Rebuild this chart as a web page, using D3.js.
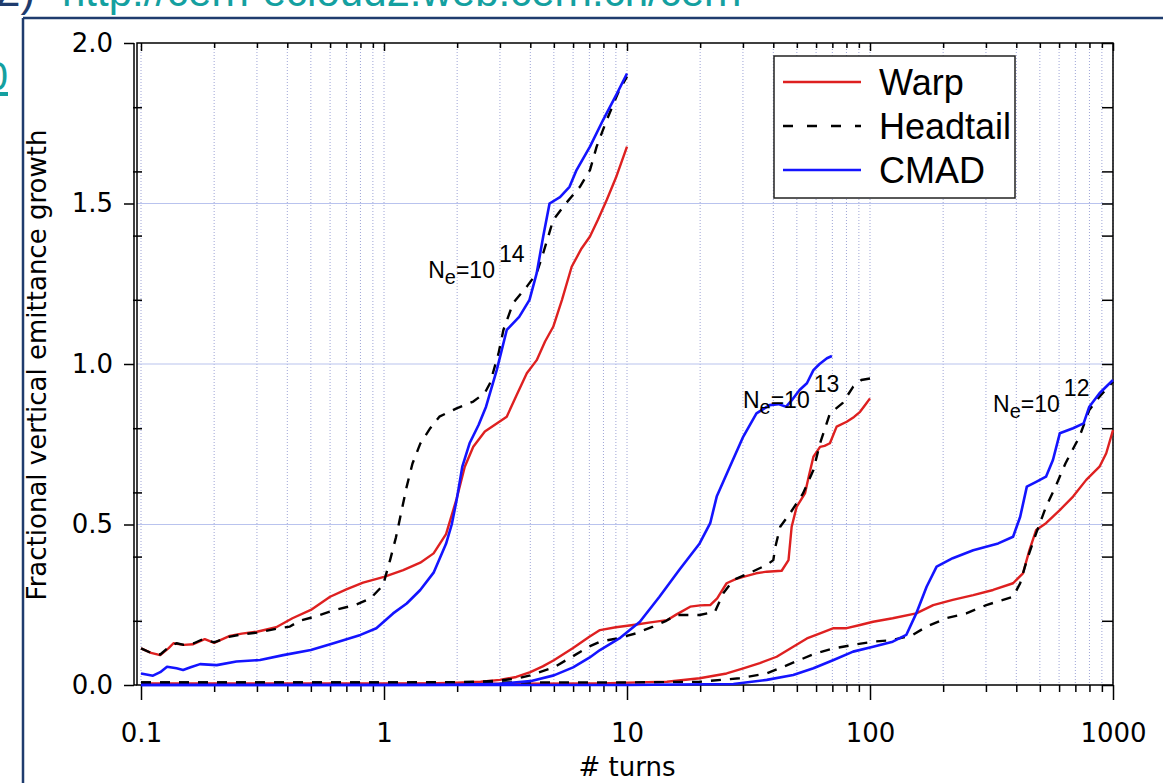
<!DOCTYPE html>
<html><head><meta charset="utf-8">
<script src="https://cdn.jsdelivr.net/npm/d3@7"></script>
<style>
html,body{margin:0;padding:0;background:#fff;}
svg{display:block;}
</style></head>
<body>
<svg id="chart" width="1163" height="783"></svg>
<script>
// ---------- DATA ----------
const seriesNames = ["Warp", "Headtail", "CMAD"];
const xTickValues = [0.1, 1, 10, 100, 1000];
const xTickLabels = ["0.1", "1", "10", "100", "1000"];
const yTickValues = [0, 0.5, 1.0, 1.5, 2.0];
const yTickLabels = ["0.0", "0.5", "1.0", "1.5", "2.0"];
const yMinorValues = [0.2, 0.4, 0.6, 0.8, 1.2, 1.4, 1.6, 1.8];
const yGridValues = [0.5, 1.0, 1.5];

// N_e = 10^14
const warp14 = [[0.1,0.114],[0.11,0.10],[0.12,0.093],[0.13,0.115],[0.136,0.13],[0.15,0.125],[0.164,0.127],[0.183,0.143],[0.2,0.131],[0.232,0.153],[0.26,0.16],[0.3,0.166],[0.36,0.18],[0.42,0.208],[0.5,0.234],[0.6,0.275],[0.7,0.298],[0.82,0.319],[1.0,0.337],[1.2,0.358],[1.41,0.381],[1.6,0.41],[1.8,0.47],[1.99,0.58],[2.15,0.68],[2.33,0.742],[2.6,0.79],[2.91,0.815],[3.2,0.836],[3.5,0.9],[3.87,0.971],[4.25,1.012],[4.6,1.07],[4.97,1.116],[5.4,1.2],[5.92,1.303],[6.5,1.36],[7.04,1.397],[7.6,1.45],[8.25,1.511],[9.0,1.58],[10,1.677]];
const headtail14 = [[0.1,0.114],[0.11,0.10],[0.12,0.095],[0.13,0.118],[0.14,0.13],[0.15,0.125],[0.165,0.13],[0.18,0.143],[0.2,0.133],[0.23,0.15],[0.26,0.158],[0.3,0.163],[0.36,0.175],[0.41,0.182],[0.45,0.2],[0.52,0.213],[0.63,0.234],[0.76,0.249],[0.88,0.27],[0.99,0.31],[1.06,0.39],[1.12,0.46],[1.24,0.618],[1.31,0.69],[1.41,0.752],[1.55,0.80],[1.69,0.836],[1.99,0.862],[2.33,0.883],[2.6,0.91],[2.73,0.94],[2.96,1.033],[3.1,1.106],[3.4,1.19],[3.87,1.241],[4.25,1.283],[4.52,1.345],[4.97,1.449],[5.6,1.5],[6.4,1.552],[7.04,1.604],[7.5,1.677],[8.25,1.76],[9.3,1.854],[10,1.895]];
const cmad14 = [[0.1,0.036],[0.112,0.029],[0.12,0.04],[0.128,0.057],[0.14,0.052],[0.149,0.047],[0.16,0.055],[0.175,0.065],[0.205,0.062],[0.247,0.073],[0.309,0.078],[0.385,0.093],[0.5,0.109],[0.62,0.13],[0.8,0.156],[0.93,0.177],[1.09,0.223],[1.24,0.254],[1.41,0.296],[1.6,0.35],[1.8,0.44],[1.9,0.5],[1.99,0.576],[2.1,0.68],[2.25,0.753],[2.45,0.81],[2.63,0.867],[2.91,0.981],[3.2,1.106],[3.6,1.147],[3.97,1.2],[4.25,1.283],[4.52,1.397],[4.8,1.5],[5.3,1.52],[5.8,1.552],[6.2,1.604],[7.04,1.677],[7.97,1.76],[9.1,1.843],[10,1.905]];

// N_e = 10^13
const warp13 = [[0.1,0.004],[1,0.004],[1.5,0.005],[2,0.007],[2.5,0.01],[3,0.016],[3.5,0.025],[4,0.04],[4.5,0.058],[5,0.077],[6,0.115],[7,0.15],[7.74,0.171],[9,0.18],[10.6,0.187],[12.5,0.195],[14.6,0.202],[16,0.22],[18.2,0.244],[20,0.248],[22,0.249],[23.5,0.27],[25.7,0.317],[28,0.33],[30.1,0.337],[34,0.348],[37.6,0.353],[43.3,0.356],[46.2,0.389],[47.6,0.493],[49.9,0.555],[54,0.597],[56,0.65],[58.5,0.711],[62.3,0.742],[65,0.745],[68.4,0.753],[72.9,0.805],[80.2,0.82],[86,0.835],[91,0.851],[95,0.87],[100,0.893]];
const headtail13 = [[0.1,0.008],[1,0.008],[2,0.009],[2.5,0.011],[3,0.014],[3.5,0.02],[4,0.03],[5,0.055],[6,0.09],[7,0.12],[7.74,0.135],[9.1,0.145],[10.9,0.161],[12.8,0.182],[14.5,0.2],[15.9,0.218],[19.9,0.218],[23,0.228],[24.9,0.286],[27.4,0.327],[31.7,0.348],[37.6,0.374],[40,0.389],[40.8,0.431],[42.7,0.493],[46.9,0.535],[53,0.597],[58.5,0.67],[62.3,0.753],[68.4,0.846],[77.1,0.878],[85.2,0.929],[92,0.95],[100,0.955]];
const cmad13 = [[0.1,0],[1,0],[2,0.001],[3,0.004],[4,0.012],[5,0.03],[6,0.055],[7,0.085],[7.74,0.109],[9.3,0.145],[11.3,0.197],[13.6,0.275],[16.4,0.358],[19.9,0.441],[22,0.504],[23.4,0.587],[26.5,0.68],[30.1,0.774],[34.1,0.846],[38.6,0.872],[42,0.875],[45.2,0.867],[48,0.89],[51.3,0.919],[55,0.94],[58.5,0.981],[62,1.0],[66.5,1.018],[69.7,1.025]];

// N_e = 10^12
const warp12 = [[0.1,0.004],[1,0.004],[3,0.004],[7.74,0.005],[14.6,0.01],[19.9,0.021],[25.7,0.036],[30.1,0.052],[35.2,0.068],[41.3,0.088],[48.3,0.119],[55,0.145],[62.3,0.161],[70.8,0.177],[80.2,0.177],[91,0.187],[103,0.197],[124,0.208],[155,0.223],[182,0.249],[219,0.265],[266,0.28],[321,0.296],[388,0.317],[426,0.348],[453,0.42],[483,0.483],[530,0.504],[604,0.545],[685,0.587],[776,0.639],[880,0.68],[938,0.722],[1000,0.794]];
const headtail12 = [[0.1,0.008],[3,0.008],[10,0.008],[19.9,0.01],[29,0.021],[37.6,0.036],[44,0.057],[51.3,0.078],[60,0.099],[70.8,0.114],[85.2,0.125],[103,0.135],[124,0.14],[150,0.156],[171,0.182],[206,0.208],[249,0.223],[301,0.249],[388,0.275],[415,0.317],[442,0.389],[483,0.473],[530,0.555],[580,0.618],[637,0.69],[728,0.774],[799,0.857],[880,0.898],[1000,0.945]];
const cmad12 = [[0.1,0],[10,0],[27.4,0.003],[37.6,0.016],[48.3,0.031],[58.5,0.052],[70.8,0.078],[85.2,0.104],[103,0.119],[124,0.135],[141,0.156],[155,0.223],[171,0.306],[188,0.369],[219,0.395],[266,0.42],[337,0.441],[388,0.462],[415,0.524],[442,0.618],[483,0.633],[530,0.649],[566,0.701],[604,0.784],[685,0.8],[757,0.815],[799,0.867],[880,0.909],[1000,0.95]];

const annotations = [
  {x: 1.52, y: 1.268, exp: "14"},
  {x: 30.0, y: 0.863, exp: "13"},
  {x: 321, y: 0.85, exp: "12"}
];

// ---------- LAYOUT ----------
const svg = d3.select("#chart");
const frame = {left: 137, right: 1113, top: 43, bottom: 685};
const x = d3.scaleLog().domain([0.1, 1000]).range([141, 1113]);
const y = d3.scaleLinear().domain([0, 2]).range([685, 43]);

const colors = {Warp: "#de2020", Headtail: "#000000", CMAD: "#1414ff"};
const tickFont = "DejaVu Sans, sans-serif";

// page decoration (cut-off slide)
svg.append("line").attr("x1", 23).attr("x2", 1163).attr("y1", 18).attr("y2", 18)
  .attr("stroke", "#1f3c6e").attr("stroke-width", 2.5);
svg.append("line").attr("x1", 23).attr("x2", 23).attr("y1", 18).attr("y2", 783)
  .attr("stroke", "#1f3c6e").attr("stroke-width", 2.5);
svg.append("text").attr("x", -4).attr("y", 6).attr("font-family", "Liberation Sans, Arial, sans-serif")
  .attr("font-size", 44).attr("fill", "#1f3c6e").text("2)");
svg.append("text").attr("x", 62).attr("y", 6).attr("font-family", "Liberation Sans, Arial, sans-serif")
  .attr("font-size", 42).attr("fill", "#14a0a0").text("http://cern-ecloud2.web.cern.ch/cern");
svg.append("text").attr("x", 8).attr("y", 90).attr("text-anchor", "end").attr("font-family", "Liberation Sans, Arial, sans-serif")
  .attr("font-size", 40).attr("fill", "#14a0a0").attr("text-decoration", "underline").text("0");

// minor log values
const logAll = [];
for (let e = -1; e <= 2; e++) for (let m = 1; m <= 9; m++) logAll.push(+(m * Math.pow(10, e)).toPrecision(3));
logAll.push(1000);
const logMinor = logAll.filter(v => !xTickValues.includes(v));

// grid
svg.append("g").selectAll("line").data(logAll).join("line")
  .attr("x1", d => x(d)).attr("x2", d => x(d)).attr("y1", frame.top).attr("y2", frame.bottom)
  .attr("stroke", "#9ea4d6").attr("stroke-width", 1).attr("stroke-dasharray", "1,2");
svg.append("g").selectAll("line").data(yGridValues).join("line")
  .attr("x1", frame.left).attr("x2", frame.right).attr("y1", d => y(d)).attr("y2", d => y(d))
  .attr("stroke", "#b9c3ee").attr("stroke-width", 1.2);

// axes
function styleAxis(g) { g.select(".domain").remove(); g.selectAll(".tick line").attr("stroke", "#000").attr("stroke-width", 1.5); }

const gxB = svg.append("g").attr("transform", `translate(0,${frame.bottom})`)
  .call(d3.axisBottom(x).tickValues(xTickValues).tickFormat((d, i) => xTickLabels[i]).tickSize(15));
styleAxis(gxB);
gxB.selectAll("text").attr("y", 57).attr("dy", 0).attr("font-family", tickFont).attr("font-size", 26).attr("fill", "#000");
svg.append("g").attr("transform", `translate(0,${frame.bottom})`)
  .call(d3.axisBottom(x).tickValues(logMinor).tickFormat("").tickSize(7)).call(styleAxis);
svg.append("g").attr("transform", `translate(0,${frame.top})`)
  .call(d3.axisTop(x).tickValues(xTickValues).tickFormat("").tickSize(-8)).call(styleAxis);
svg.append("g").attr("transform", `translate(0,${frame.top})`)
  .call(d3.axisTop(x).tickValues(logMinor).tickFormat("").tickSize(-5)).call(styleAxis);

const gyL = svg.append("g").attr("transform", `translate(134,0)`)
  .call(d3.axisLeft(y).tickValues(yTickValues).tickFormat((d, i) => yTickLabels[i]).tickSize(10).tickPadding(11));
styleAxis(gyL);
gyL.selectAll("text").attr("font-family", tickFont).attr("font-size", 26).attr("fill", "#000");
svg.append("g").attr("transform", `translate(133,0)`)
  .call(d3.axisRight(y).tickValues(yMinorValues).tickFormat("").tickSize(9)).call(styleAxis);
svg.append("g").attr("transform", `translate(${frame.right},0)`)
  .call(d3.axisRight(y).tickValues(yTickValues.concat(yMinorValues)).tickFormat("").tickSize(-11)).call(styleAxis);

// frame
svg.append("rect").attr("x", frame.left).attr("y", frame.top)
  .attr("width", frame.right - frame.left).attr("height", frame.bottom - frame.top)
  .attr("fill", "none").attr("stroke", "#000").attr("stroke-width", 1.5);
svg.append("line").attr("x1", 134).attr("x2", 134).attr("y1", frame.top).attr("y2", frame.bottom)
  .attr("stroke", "#000").attr("stroke-width", 1.5);
svg.append("line").attr("x1", 134).attr("x2", frame.left).attr("y1", frame.bottom).attr("y2", frame.bottom)
  .attr("stroke", "#000").attr("stroke-width", 1.5);

// lines
const line = d3.line().x(d => x(d[0])).y(d => y(d[1]));
const groups = [
  {name: "Warp", data: [warp14, warp13, warp12]},
  {name: "Headtail", data: [headtail14, headtail13, headtail12]},
  {name: "CMAD", data: [cmad14, cmad13, cmad12]}
];
groups.forEach(gr => {
  svg.append("g").selectAll("path").data(gr.data).join("path")
    .attr("d", line).attr("fill", "none")
    .attr("stroke", colors[gr.name]).attr("stroke-width", gr.name === "CMAD" ? 2.6 : 2.4)
    .attr("stroke-linejoin", "round")
    .attr("stroke-dasharray", gr.name === "Headtail" ? "10,9" : null);
});

// annotations
annotations.forEach(a => {
  const t = svg.append("text").attr("x", x(a.x)).attr("y", y(a.y))
    .attr("font-family", "Liberation Sans, Arial, sans-serif").attr("font-size", 23).attr("fill", "#000");
  t.append("tspan").text("N");
  t.append("tspan").attr("dy", 6).attr("font-size", 20).text("e");
  t.append("tspan").attr("dy", -6).text("=10");
  t.append("tspan").attr("dy", -16).attr("dx", 4).text(a.exp);
});

// axis titles
svg.append("text").attr("transform", "translate(46,365) rotate(-90)")
  .attr("text-anchor", "middle").attr("font-family", tickFont).attr("font-size", 26).attr("fill", "#000")
  .text("Fractional vertical emittance growth");
svg.append("text").attr("x", 627).attr("y", 776).attr("text-anchor", "middle")
  .attr("font-family", tickFont).attr("font-size", 26).attr("fill", "#000").text("# turns");

// legend
const lg = svg.append("g").attr("transform", "translate(774,56)");
lg.append("rect").attr("width", 241).attr("height", 142).attr("fill", "#fff")
  .attr("stroke", "#222").attr("stroke-width", 1.5);
seriesNames.forEach((n, i) => {
  const yy = 26 + i * 44;
  lg.append("line").attr("x1", 9).attr("x2", 87).attr("y1", yy).attr("y2", yy)
    .attr("stroke", colors[n]).attr("stroke-width", 2.5)
    .attr("stroke-dasharray", n === "Headtail" ? "10,14" : null);
  lg.append("text").attr("x", 105).attr("y", yy + 13).attr("font-family", "Liberation Sans, Arial, sans-serif")
    .attr("font-size", 36).attr("fill", "#000").text(n);
});
</script>
</body></html>
